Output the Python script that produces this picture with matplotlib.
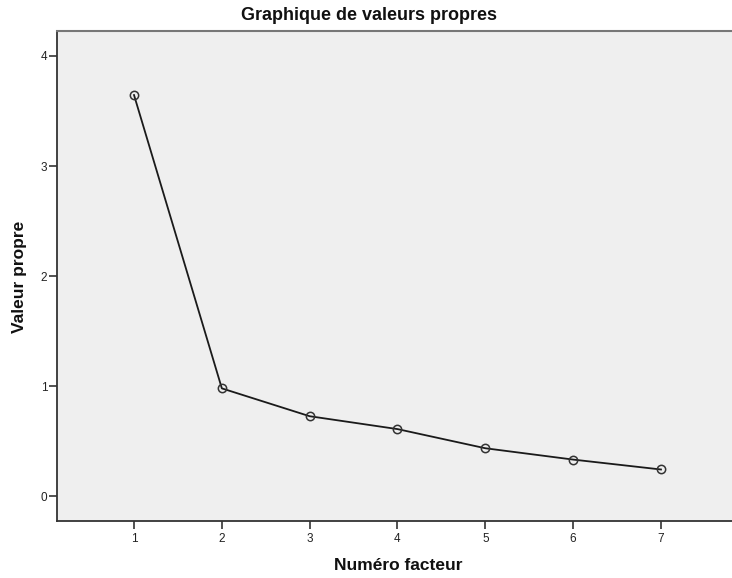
import matplotlib
matplotlib.use("Agg")
import matplotlib.pyplot as plt

factors = [1, 2, 3, 4, 5, 6, 7]
eigenvalues = [3.645, 0.98, 0.727, 0.61, 0.436, 0.333, 0.243]
xticks = [1, 2, 3, 4, 5, 6, 7]
yticks = [0, 1, 2, 3, 4]

plt.rcParams['font.family'] = ['Liberation Sans', 'DejaVu Sans']

fig = plt.figure(figsize=(7.32, 5.78), dpi=100)
W, H = 732, 578
left, right, top, bottom = 57, 738, 31, 521
ax = fig.add_axes([left / W, 1 - bottom / H, (right - left) / W, (bottom - top) / H])
ax.set_facecolor('#EFEFEF')

ax.plot(factors, eigenvalues, color='#1a1a1a', linewidth=1.3, zorder=2)
ax.plot(factors, eigenvalues, linestyle='none', marker='o', markersize=6,
        markerfacecolor='none', markeredgecolor='#333333', markeredgewidth=1.1, zorder=3)

ax.set_xlim(0.123, 7.877)
ax.set_ylim(-0.225, 4.227)
ax.set_xticks(xticks)
ax.set_yticks(yticks)
ax.tick_params(axis='both', labelsize=8.5, color='#333333', length=5.5, width=1.2,
               labelcolor='#222222')
ax.tick_params(axis='y', pad=1.5)
ax.tick_params(axis='x', pad=3)

ax.spines['right'].set_visible(False)
for s in ['left', 'bottom']:
    ax.spines[s].set_color('#333333')
    ax.spines[s].set_linewidth(1.3)
ax.spines['top'].set_color('#777777')
ax.spines['top'].set_linewidth(1.5)

fig.text(369 / W, 1 - 15 / H, 'Graphique de valeurs propres', ha='center', va='center',
         fontsize=13, fontweight='bold', color='#111111')
fig.text(398 / W, 1 - 565 / H, 'Numéro facteur', ha='center', va='center',
         fontsize=12.5, fontweight='bold', color='#111111')
fig.text(20 / W, 1 - 277 / H, 'Valeur propre', ha='center', va='center', rotation=90,
         fontsize=12.5, fontweight='bold', color='#111111')

fig.savefig('out.png', dpi=100)
